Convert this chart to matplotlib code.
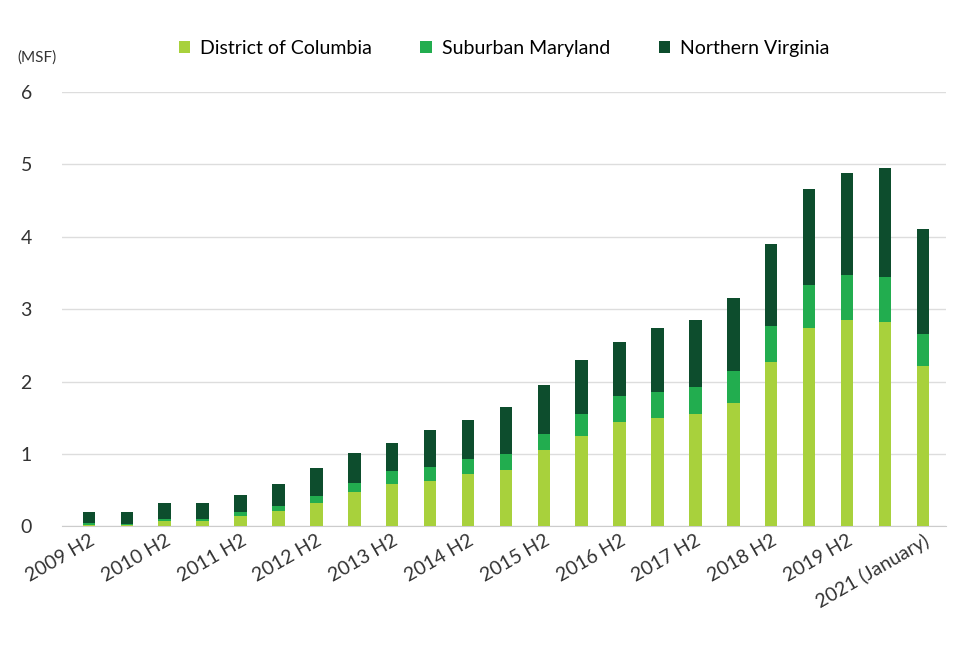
import matplotlib.pyplot as plt
import numpy as np

labels = ["2009 H2", "", "2010 H2", "", "2011 H2", "", "2012 H2", "", "2013 H2", "",
          "2014 H2", "", "2015 H2", "", "2016 H2", "", "2017 H2", "", "2018 H2", "",
          "2019 H2", "", "2021 (January)"]
dc = [0.02, 0.02, 0.07, 0.07, 0.15, 0.22, 0.33, 0.47, 0.58, 0.63, 0.73, 0.78,
      1.06, 1.25, 1.44, 1.50, 1.55, 1.70, 2.27, 2.74, 2.85, 2.82, 2.22]
md_cum = [0.05, 0.04, 0.10, 0.10, 0.20, 0.28, 0.42, 0.60, 0.76, 0.82, 0.93, 1.00,
          1.28, 1.55, 1.80, 1.85, 1.92, 2.15, 2.77, 3.33, 3.47, 3.44, 2.66]
total = [0.20, 0.20, 0.33, 0.33, 0.44, 0.58, 0.80, 1.02, 1.15, 1.33, 1.47, 1.65,
         1.95, 2.30, 2.55, 2.74, 2.85, 3.15, 3.90, 4.65, 4.87, 4.95, 4.10]

dc = np.array(dc)
md = np.array(md_cum) - dc
nova = np.array(total) - np.array(md_cum)

plt.rcParams['font.family'] = ['Lato', 'DejaVu Sans']
fig, ax = plt.subplots(figsize=(9.6, 6.54), dpi=100)
fig.subplots_adjust(left=0.065, right=0.985, top=0.86, bottom=0.195)

x = np.arange(len(dc))
w = 0.33
ax.bar(x, dc, w, color="#a8d13c", label="District of Columbia", zorder=3)
ax.bar(x, md, w, bottom=dc, color="#22ad4f", label="Suburban Maryland", zorder=3)
ax.bar(x, nova, w, bottom=dc + md, color="#0d4d2d", label="Northern Virginia", zorder=3)

ax.set_ylim(0, 6)
ax.set_xlim(-0.7, len(dc) - 0.4)
ax.set_yticks(range(7))
ax.grid(axis="y", color="#dddddd", lw=1, zorder=0)
for s in ["top", "right", "left"]:
    ax.spines[s].set_visible(False)
ax.spines["bottom"].set_color("#cccccc")
ax.tick_params(axis="both", length=0, labelsize=14, colors="#333333")
ax.tick_params(axis="y", pad=22)
ax.set_xticks(x)
ax.set_xticklabels(labels, rotation=30, ha="right", rotation_mode="anchor")

fig.text(0.018, 0.905, "(MSF)", fontsize=11, color="#333333")
ax.legend(loc="lower center", bbox_to_anchor=(0.5, 1.04), ncol=3, frameon=False,
          fontsize=14, handlelength=0.6, handleheight=0.6, columnspacing=2.5,
          handletextpad=0.5)

fig.savefig("out.png")
